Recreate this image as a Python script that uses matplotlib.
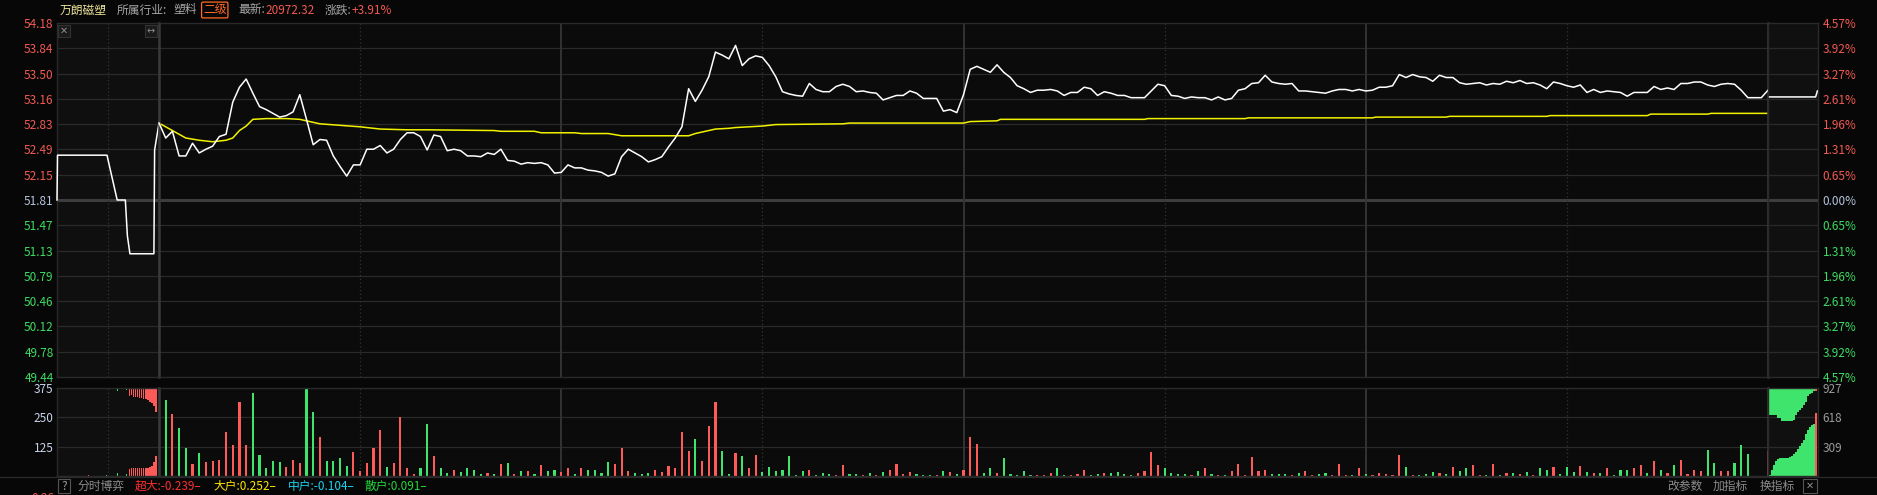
import numpy as np
import matplotlib
matplotlib.use('Agg')
import matplotlib.pyplot as plt
from matplotlib.patches import Rectangle

plt.rcParams['font.family'] = ['Noto Sans CJK SC', 'DejaVu Sans']

# ---- data -------------------------------------------------------------
price_levels = [54.18, 53.84, 53.50, 53.16, 52.83, 52.49, 52.15, 51.81,
                51.47, 51.13, 50.79, 50.46, 50.12, 49.78, 49.44]
pct_labels = ['4.57%', '3.92%', '3.27%', '2.61%', '1.96%', '1.31%', '0.65%', '0.00%',
              '0.65%', '1.31%', '1.96%', '2.61%', '3.27%', '3.92%', '4.57%']
prev_close = 51.81

# call auction (minutes after 9:15)
pre_t = [0, 0.05, 4.9, 5.9, 6.7, 6.9, 7.15, 9.5, 9.57, 10.0]
pre_p = [51.81, 52.41, 52.41, 51.81, 51.81, 51.33, 51.09, 51.09, 52.48, 52.84]

# continuous session, one value per minute (0 = 9:30, 240 = 15:00)
price = [52.84, 52.64, 52.73, 52.40, 52.40, 52.57, 52.44, 52.49, 52.53, 52.66,
         52.69, 53.12, 53.32, 53.43, 53.24, 53.06, 53.02, 52.97, 52.92, 52.94,
         52.99, 53.22, 52.89, 52.55, 52.62, 52.61, 52.40, 52.26, 52.13, 52.28,
         52.28, 52.49, 52.49, 52.54, 52.44, 52.49, 52.62, 52.71, 52.71, 52.66,
         52.48, 52.68, 52.66, 52.47, 52.49, 52.47, 52.40, 52.40, 52.39, 52.44,
         52.42, 52.49, 52.34, 52.33, 52.29, 52.31, 52.30, 52.31, 52.28, 52.17,
         52.18, 52.28, 52.24, 52.24, 52.21, 52.20, 52.18, 52.13, 52.16, 52.39,
         52.49, 52.44, 52.39, 52.32, 52.35, 52.39, 52.52, 52.64, 52.79, 53.30,
         53.13, 53.28, 53.46, 53.79, 53.75, 53.70, 53.88, 53.61, 53.70, 53.74,
         53.72, 53.61, 53.46, 53.26, 53.23, 53.21, 53.20, 53.37, 53.29, 53.26,
         53.26, 53.33, 53.36, 53.33, 53.26, 53.27, 53.25, 53.24, 53.15, 53.18,
         53.21, 53.21, 53.27, 53.24, 53.17, 53.17, 53.17, 53.00, 53.02, 52.98,
         53.22, 53.56, 53.60, 53.56, 53.52, 53.62, 53.52, 53.45, 53.34, 53.30,
         53.25, 53.28, 53.28, 53.29, 53.27, 53.21, 53.25, 53.25, 53.32, 53.30,
         53.21, 53.26, 53.24, 53.21, 53.21, 53.18, 53.18, 53.18, 53.27, 53.36,
         53.34, 53.21, 53.20, 53.17, 53.19, 53.18, 53.18, 53.15, 53.19, 53.15,
         53.17, 53.28, 53.30, 53.37, 53.38, 53.48, 53.39, 53.37, 53.36, 53.37,
         53.27, 53.27, 53.26, 53.25, 53.24, 53.27, 53.29, 53.29, 53.27, 53.29,
         53.27, 53.28, 53.32, 53.32, 53.34, 53.49, 53.45, 53.49, 53.46, 53.45,
         53.40, 53.48, 53.45, 53.45, 53.38, 53.36, 53.37, 53.38, 53.35, 53.37,
         53.36, 53.40, 53.38, 53.41, 53.37, 53.38, 53.35, 53.30, 53.39, 53.37,
         53.34, 53.32, 53.35, 53.25, 53.29, 53.25, 53.27, 53.26, 53.25, 53.20,
         53.25, 53.25, 53.25, 53.33, 53.29, 53.31, 53.29, 53.37, 53.37, 53.39,
         53.39, 53.35, 53.33, 53.36, 53.37, 53.36, 53.28, 53.18, 53.18, 53.18,
         53.28]

avg_t = [0, 2, 4, 6, 8, 10, 11, 12, 13, 14, 16, 19, 21, 22, 24, 27, 30, 33, 37,
         40, 50, 51, 56, 57, 62, 63, 67, 69, 79, 80, 82, 83, 85, 86, 88, 90, 92,
         102, 103, 120, 121, 125, 125.5, 147, 147.5, 162, 162.5, 181, 181.5,
         192, 192.5, 207, 207.5, 222, 222.5, 231, 231.5, 240]
avg_p = [52.84, 52.74, 52.64, 52.61, 52.59, 52.61, 52.64, 52.74, 52.80, 52.89,
         52.90, 52.90, 52.89, 52.87, 52.83, 52.81, 52.79, 52.76, 52.75, 52.75,
         52.74, 52.73, 52.73, 52.71, 52.71, 52.70, 52.70, 52.67, 52.67, 52.70,
         52.74, 52.76, 52.77, 52.78, 52.79, 52.80, 52.82, 52.83, 52.84, 52.84,
         52.86, 52.87, 52.89, 52.89, 52.90, 52.90, 52.91, 52.91, 52.92, 52.92,
         52.93, 52.93, 52.94, 52.94, 52.96, 52.96, 52.97, 52.97]

# after-hours fixed price session (minutes after 15:05)
post_t = [0.8, 23.8, 24.7]
post_p = [53.19, 53.19, 53.27]

vol = [36, 323, 263, 204, 118, 53, 96, 60, 65, 69,
       187, 134, 316, 134, 355, 91, 36, 65, 60, 40,
       69, 57, 371, 273, 168, 65, 65, 75, 43, 101,
       22, 56, 118, 194, 39, 56, 251, 32, 10, 32,
       220, 86, 32, 14, 26, 17, 32, 26, 10, 14,
       10, 53, 56, 10, 22, 22, 10, 47, 22, 26,
       17, 32, 10, 32, 27, 27, 14, 60, 53, 118,
       22, 14, 10, 14, 26, 17, 43, 36, 187, 108,
       157, 65, 213, 316, 108, 10, 99, 86, 36, 91,
       17, 39, 22, 26, 86, 4, 22, 26, 4, 14,
       10, 4, 47, 10, 10, 4, 14, 4, 17, 26,
       53, 10, 17, 10, 4, 4, 4, 22, 17, 10,
       26, 168, 137, 14, 32, 14, 75, 10, 4, 22,
       4, 4, 4, 14, 32, 4, 4, 10, 26, 4,
       10, 14, 14, 17, 10, 4, 14, 22, 101, 47,
       32, 14, 10, 10, 4, 22, 32, 10, 4, 4,
       22, 53, 4, 79, 22, 26, 10, 10, 10, 4,
       14, 22, 4, 10, 14, 4, 53, 4, 4, 32,
       10, 4, 14, 10, 4, 91, 39, 4, 4, 10,
       17, 14, 10, 39, 22, 36, 47, 4, 4, 53,
       4, 14, 14, 10, 17, 4, 36, 27, 40, 10,
       40, 17, 43, 17, 14, 14, 32, 4, 27, 27,
       36, 47, 14, 65, 26, 14, 47, 69, 10, 26,
       22, 112, 56, 22, 22, 56, 134, 93, 0, 0,
       108]
vol_side = ('rgrggrgrrr' 'rrrrgggggr' 'rrggrggggr' 'rrrrgrrrrg' 'grggrggggr'
            'grgrgrgrgg' 'rrgrggggrr' 'rgggrrrrrr' 'grrrggrgrr' 'gggggggrgg'
            'grrggrgrgr' 'rrrgggrgrg' 'rrrggrgggg' 'grrrggrrrg' 'grggggrrrr'
            'ggggrgrgrg' 'rrrrrrgggr' 'grrggrrrgr' 'grrrrrgrgg' 'grgrggrrgr'
            'grgrgrggrg' 'ggrgrgrggg' 'rrgrgrgrrr' 'rggrrggggg' 'r')

# auction imbalance bars
pre_bar_t = [7.1, 7.3, 7.5, 7.7, 7.9, 8.1, 8.3, 8.5, 8.7, 8.9, 9.1, 9.3, 9.5, 9.7]
pre_hang = [343, 345, 338, 336, 336, 334, 332, 330, 326, 322, 316, 312, 300, 272]
pre_rise = [30, 32, 34, 36, 36, 36, 36, 36, 36, 36, 38, 42, 58, 85]
pre_tiny_t = [0.05, 3.1, 4.9, 5.9, 6.85]
pre_tiny_v = [8, 6, 4, 12, 8]
pre_tiny_side = ['r', 'r', 'g', 'g', 'g']

post_bar_t = list(range(1, 25))
post_hang = [642, 642, 642, 642, 606, 606, 581, 581, 581, 581, 581, 581, 590, 642,
             677, 690, 713, 749, 784, 838, 860, 873, 891, 900]
post_rise = [10, 60, 120, 160, 180, 189, 189, 189, 189, 189, 195, 214, 230, 250,
             285, 321, 350, 374, 446, 481, 517, 540, 553, 660]
post_side = ['g'] * 23 + ['r']

vol_ticks = [375, 250, 125]
post_vol_ticks = [927, 618, 309]

flow_names = ['超大', '大户', '中户', '散户']
flow_vals = ['-0.239', '0.252', '-0.104', '0.091']

# ---- style ------------------------------------------------------------
W, H = 1877, 495
BG = '#070707'
GRID = '#2a2a2a'
RED = '#f25a52'
GREEN = '#3ddc62'
GRAY = '#a6a6a6'
bar_col = {'r': '#ff5a5a', 'g': '#3fe46c'}

fig = plt.figure(figsize=(W / 100, H / 100), dpi=100, facecolor=BG)


def add_ax(x0, y0, x1, y1, bg):
    ax = fig.add_axes([x0 / W, 1 - y1 / H, (x1 - x0) / W, (y1 - y0) / H])
    ax.set_facecolor(bg)
    ax.set_xticks([])
    ax.set_yticks([])
    for s in ax.spines.values():
        s.set_color(GRID)
        s.set_linewidth(1)
    return ax


ax_pre = add_ax(57, 23, 159, 377, '#0f0f0f')
ax_main = add_ax(159, 23, 1768, 377, '#0b0b0b')
ax_post = add_ax(1768, 23, 1818, 377, '#101010')
vx_pre = add_ax(57, 388, 159, 476, '#0f0f0f')
vx_main = add_ax(159, 388, 1768, 476, '#0b0b0b')
vx_post = add_ax(1768, 388, 1818, 476, '#101010')

for ax, lim in [(ax_pre, 10), (ax_main, 240), (ax_post, 25)]:
    ax.set_xlim(0, lim)
    ax.set_ylim(price_levels[-1], price_levels[0])
    for lv in price_levels[1:-1]:
        if lv == prev_close:
            ax.axhline(lv, color='#3d3d3d', lw=2.2, zorder=1)
        else:
            ax.axhline(lv, color=GRID, lw=0.9, zorder=1)

for ax, lim, top, grid in [(vx_pre, 10, 375, vol_ticks), (vx_main, 240, 375, vol_ticks),
                           (vx_post, 25, 927, post_vol_ticks)]:
    ax.set_xlim(0, lim)
    ax.set_ylim(0, top)
    for lv in grid[1:]:
        ax.axhline(lv, color=GRID, lw=0.9, zorder=1)

for ax in [ax_main, vx_main]:
    for m in [60, 120, 180]:
        ax.axvline(m, color='#333333', lw=1.4, zorder=1)
    for m in [30, 90, 150, 210]:
        ax.axvline(m, color='#333333', lw=0.9, ls=(0, (1, 2)), zorder=1)
    ax.spines['left'].set_color('#3a3a3a')
    ax.spines['left'].set_linewidth(1.8)
    ax.spines['right'].set_color('#3a3a3a')
    ax.spines['right'].set_linewidth(1.8)
for ax in [ax_pre, vx_pre]:
    ax.axvline(5, color='#333333', lw=0.9, ls=(0, (1, 2)), zorder=1)

# price lines
ax_pre.plot(pre_t, pre_p, color='white', lw=1.1, zorder=3, clip_on=False)
ax_main.plot(range(len(price)), price, color='white', lw=1.1, zorder=3, clip_on=False)
ax_main.plot(avg_t, avg_p, color='#f2f200', lw=1.1, zorder=2)
ax_post.plot(post_t, post_p, color='white', lw=1.1, zorder=3)

# volume bars
vx_main.bar(range(len(vol)), vol, width=0.32, color=[bar_col[c] for c in vol_side], zorder=2)
vx_pre.bar(pre_bar_t, [375 - v for v in pre_hang], bottom=pre_hang, width=0.15,
           color=bar_col['r'], zorder=2)
vx_pre.bar(pre_bar_t, pre_rise, width=0.15, color=bar_col['r'], zorder=2)
vx_pre.bar(pre_tiny_t, pre_tiny_v, width=0.1, color=[bar_col[c] for c in pre_tiny_side], zorder=2)
vx_pre.bar(pre_tiny_t, pre_tiny_v, bottom=[375 - v for v in pre_tiny_v], width=0.1,
           color=[bar_col[c] for c in pre_tiny_side], zorder=2)
post_w = [0.9] * 13 + [0.55] * 11
vx_post.bar(post_bar_t, [927 - v for v in post_hang], bottom=post_hang, width=post_w,
            color=[bar_col[c] for c in post_side], zorder=2)
vx_post.bar(post_bar_t, post_rise, width=post_w, color=[bar_col[c] for c in post_side], zorder=2)

# axis labels
FS = 8.5
ax_pre.set_yticks(price_levels)
ax_pre.set_yticklabels([f'{v:.2f}' for v in price_levels])
ax_pre.tick_params(axis='y', length=0, pad=2.5, labelsize=FS)
for lab, lv in zip(ax_pre.get_yticklabels(), price_levels):
    lab.set_color(RED if lv > prev_close else ('#b4c4dc' if lv == prev_close else GREEN))

ax_post.yaxis.tick_right()
ax_post.set_yticks(price_levels)
ax_post.set_yticklabels(pct_labels)
ax_post.tick_params(axis='y', length=0, pad=3.5, labelsize=FS)
for lab, lv in zip(ax_post.get_yticklabels(), price_levels):
    lab.set_color(RED if lv > prev_close else ('#b4c4dc' if lv == prev_close else GREEN))

vx_pre.set_yticks(vol_ticks)
vx_pre.set_yticklabels([str(v) for v in vol_ticks])
vx_pre.tick_params(axis='y', length=0, pad=2.5, labelsize=FS, colors='#c8d4ea')

vx_post.yaxis.tick_right()
vx_post.set_yticks(post_vol_ticks)
vx_post.set_yticklabels([str(v) for v in post_vol_ticks])
vx_post.tick_params(axis='y', length=0, pad=3.5, labelsize=FS, colors='#9a9a9a')

# half-hidden scale value at the very bottom, as in the source screen
fig.text(54 / W, 1 - 498 / H, '0.26', color=RED, fontsize=FS, ha='right', va='center')


def ftext(x, y, s, color, **kw):
    fig.text(x / W, 1 - y / H, s, color=color, fontsize=FS, va='center', **kw)


# header
ty = 10
ftext(60, ty, '万朗磁塑', '#eee39c')
ftext(117, ty, '所属行业:', GRAY)
ftext(173, ty, '塑料', GRAY)
ftext(203, ty, '二级', '#ff6a24',
      bbox=dict(boxstyle='round,pad=0.12', fc='none', ec='#ff6a24', lw=0.9))
ftext(238, ty, '最新:', GRAY)
ftext(265, ty, '20972.32', RED)
ftext(325, ty, '涨跌:', GRAY)
ftext(352, ty, '+3.91%', RED)

# small buttons on the chart
for x0, s in [(58, '✕'), (145, '↔')]:
    fig.patches.append(Rectangle((x0 / W, 1 - 37 / H), 12 / W, 12 / H, transform=fig.transFigure,
                                 fc='#1a1a1a', ec='#333333', lw=0.8, zorder=5))
    fig.text((x0 + 6) / W, 1 - 31 / H, s, color='#8a8a8a', fontsize=7, ha='center', va='center',
             family=['DejaVu Sans'], zorder=6)

# footer
fig.add_artist(plt.Line2D([0, 1], [1 - 477 / H, 1 - 477 / H], color=GRID, lw=0.9))
by = 486
fig.patches.append(Rectangle((58 / W, 1 - 493 / H), 12 / W, 14 / H, transform=fig.transFigure,
                             fc='none', ec='#555555', lw=0.8))
ftext(64, by, '?', '#9a9a9a', ha='center')
ftext(77, by, '分时博弈', '#8c8c8c')
flow_cols = ['#ff2e2e', '#ffe600', '#18d4f0', '#22d83c']
for x, n, v, c in zip([135, 213, 288, 365], flow_names, flow_vals, flow_cols):
    ftext(x, by, f'{n}:{v}–', c)
ftext(1667, by, '改参数', '#8c8c8c')
ftext(1713, by, '加指标', '#8c8c8c')
ftext(1760, by, '换指标', '#8c8c8c')
fig.patches.append(Rectangle((1803 / W, 1 - 493 / H), 14 / W, 14 / H, transform=fig.transFigure,
                             fc='none', ec='#555555', lw=0.8))
fig.text(1810 / W, 1 - 486 / H, '✕', color='#8a8a8a', fontsize=7, ha='center', va='center',
         family=['DejaVu Sans'])

fig.savefig('out.png', dpi=100, facecolor=BG)
